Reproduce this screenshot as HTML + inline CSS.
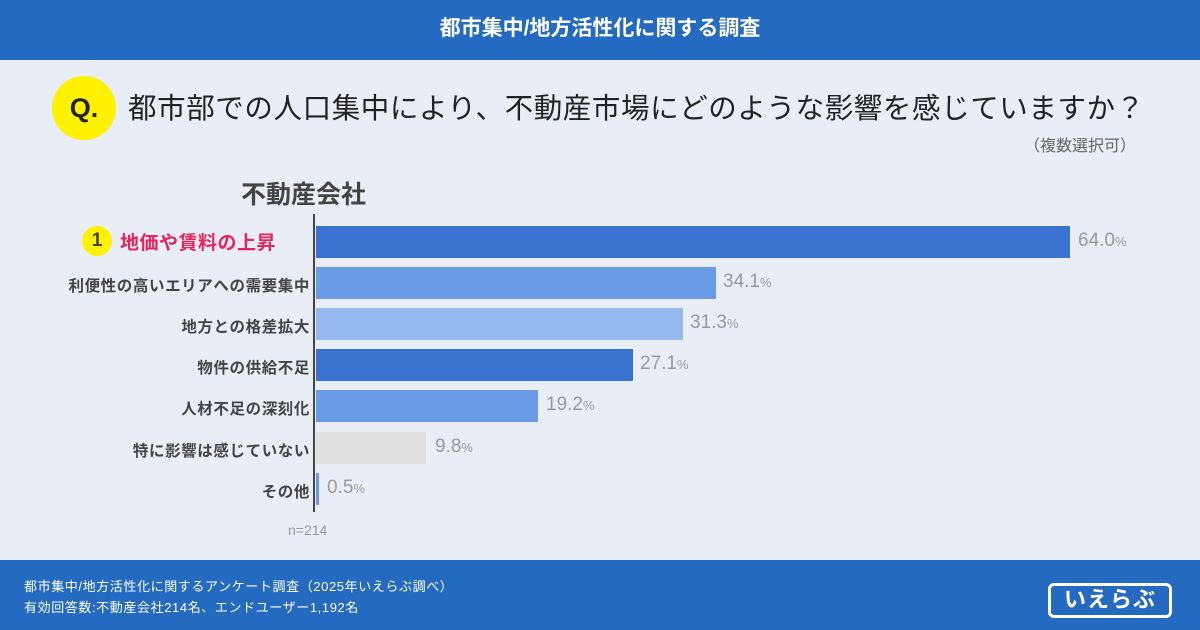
<!DOCTYPE html>
<html><head><meta charset="utf-8"><style>
*{margin:0;padding:0;box-sizing:border-box}
body{width:1200px;height:630px;overflow:hidden;background:#e9eef6;font-family:"Liberation Sans","Noto Sans CJK JP",sans-serif;position:relative}
.abs{position:absolute}
.top{left:0;top:0;width:1200px;height:60px;background:#236ac0;color:#fff;font-weight:bold;font-size:21px;text-align:center;line-height:58px}
.foot{left:0;top:560px;width:1200px;height:70px;background:#236ac0;color:#fff;font-size:13px;letter-spacing:0.6px}
.q{left:52px;top:76px;width:64px;height:64px;border-radius:50%;background:#fff200;font-weight:bold;font-size:27px;line-height:64px;text-align:center;color:#222}
.qt{left:128px;top:86px;font-size:28.5px;color:#222;white-space:nowrap;letter-spacing:0.6px}
.lab{right:890px;font-size:15.5px;font-weight:bold;letter-spacing:0.6px;color:#444;text-align:right;white-space:nowrap}
.bar{left:316px;height:32px}
.val{font-size:19px;color:#999;white-space:nowrap}
.val small{font-size:13px}
</style></head><body>
<div class="abs top">都市集中/地方活性化に関する調査</div>
<div class="abs q">Q.</div>
<div class="abs qt">都市部での人口集中により、不動産市場にどのような影響を感じていますか？</div>
<div class="abs" style="left:1024px;top:132px;font-size:16px;color:#666">（複数選択可）</div>
<div class="abs" style="left:241px;top:175px;font-size:25px;font-weight:bold;color:#444">不動産会社</div>
<div class="abs" style="left:313px;top:214px;width:2px;height:298px;background:#444"></div>

<div class="abs" style="left:82px;top:226px;width:30px;height:30px;border-radius:50%;background:#fff200;text-align:center;line-height:30px;font-size:19px;font-weight:bold;color:#444">1</div>
<div class="abs" style="left:120px;top:228px;font-size:19px;font-weight:bold;color:#e8245e;letter-spacing:0.5px">地価や賃料の上昇</div>
<div class="abs bar" style="top:226px;width:754px;background:#3a72d2"></div>
<div class="abs val" style="left:1078px;top:230px">64.0<small>%</small></div>

<div class="abs lab" style="top:274px">利便性の高いエリアへの需要集中</div>
<div class="abs bar" style="top:267px;width:400px;background:#6a9be6"></div>
<div class="abs val" style="left:723px;top:271px">34.1<small>%</small></div>

<div class="abs lab" style="top:315px">地方との格差拡大</div>
<div class="abs bar" style="top:308px;width:367px;background:#96baf0"></div>
<div class="abs val" style="left:690px;top:312px">31.3<small>%</small></div>

<div class="abs lab" style="top:356px">物件の供給不足</div>
<div class="abs bar" style="top:349px;width:317px;background:#3a72d2"></div>
<div class="abs val" style="left:640px;top:353px">27.1<small>%</small></div>

<div class="abs lab" style="top:397px">人材不足の深刻化</div>
<div class="abs bar" style="top:390px;width:222px;background:#6a9be6"></div>
<div class="abs val" style="left:546px;top:394px">19.2<small>%</small></div>

<div class="abs lab" style="top:439px">特に影響は感じていない</div>
<div class="abs bar" style="top:432px;width:110px;background:#e0e0e0"></div>
<div class="abs val" style="left:435px;top:436px">9.8<small>%</small></div>

<div class="abs lab" style="top:480px">その他</div>
<div class="abs bar" style="top:473px;width:3px;background:#6a9be6"></div>
<div class="abs val" style="left:327px;top:477px">0.5<small>%</small></div>

<div class="abs" style="left:288px;top:522px;font-size:14px;color:#999">n=214</div>

<div class="abs foot">
<div class="abs" style="left:24px;top:16px">都市集中/地方活性化に関するアンケート調査（2025年いえらぶ調べ）</div>
<div class="abs" style="left:24px;top:37px">有効回答数:不動産会社214名、エンドユーザー1,192名</div>
<div class="abs" style="left:1048px;top:23px;width:124px;height:35px;border:3px solid #fff;border-radius:6px;color:#fff;font-weight:bold;font-size:22px;line-height:28px;text-align:center;letter-spacing:1px">いえらぶ</div>
</div>
</body></html>
